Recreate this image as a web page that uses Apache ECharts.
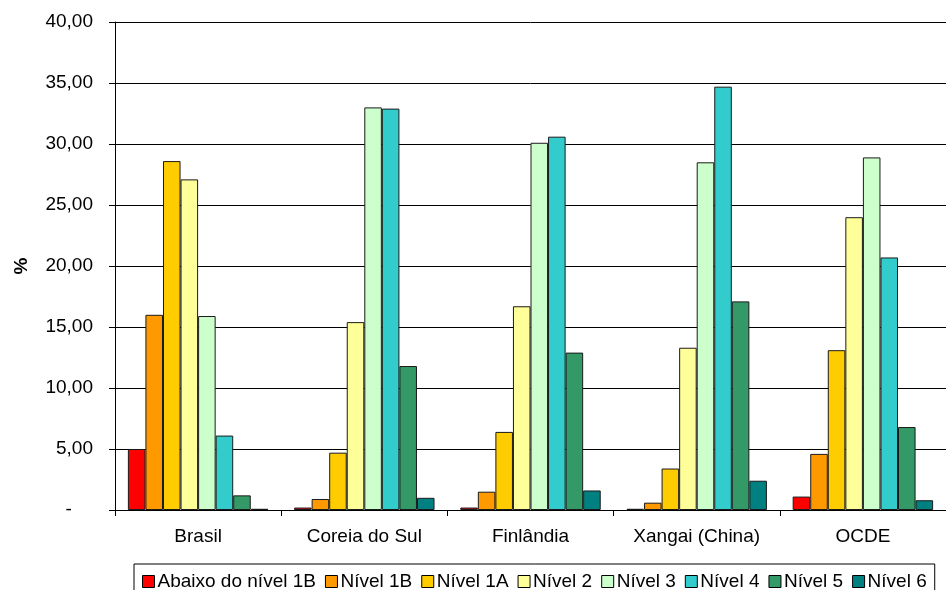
<!DOCTYPE html>
<html>
<head>
<meta charset="utf-8">
<script src="https://cdn.jsdelivr.net/npm/echarts@6/dist/echarts.min.js"></script>
<style>
html,body{margin:0;padding:0;background:#fff;}
#chart{width:946px;height:590px;}
</style>
</head>
<body>
<div id="chart"></div>
<script>
const categories = ['Brasil', 'Coreia do Sul', 'Finlândia', 'Xangai (China)', 'OCDE'];
const seriesNames = ['Abaixo do nível 1B', 'Nível 1B', 'Nível 1A', 'Nível 2', 'Nível 3', 'Nível 4', 'Nível 5', 'Nível 6'];
const abaixo1B = [5.0, 0.2, 0.2, 0.1, 1.1];
const nivel1B  = [16.0, 0.9, 1.5, 0.6, 4.6];
const nivel1A  = [28.6, 4.7, 6.4, 3.4, 13.1];
const nivel2   = [27.1, 15.4, 16.7, 13.3, 24.0];
const nivel3   = [15.9, 33.0, 30.1, 28.5, 28.9];
const nivel4   = [6.1, 32.9, 30.6, 34.7, 20.7];
const nivel5   = [1.2, 11.8, 12.9, 17.1, 6.8];
const nivel6   = [0.1, 1.0, 1.6, 2.4, 0.8];
const colors = ['#FF0000', '#FF9900', '#FFCC00', '#FFFF99', '#CCFFCC', '#33CCCC', '#339966', '#008080'];

const allValues = [abaixo1B, nivel1B, nivel1A, nivel2, nivel3, nivel4, nivel5, nivel6];
const FONT = 'Liberation Sans, Arial, sans-serif';
const FS = 19;

const chart = echarts.init(document.getElementById('chart'), null, {renderer: 'canvas'});
chart.setOption({
  animation: false,
  backgroundColor: '#ffffff',
  textStyle: {fontFamily: FONT},
  grid: {left: 115, right: -9, top: 22, bottom: 80, containLabel: false},
  legend: {
    data: seriesNames.map((n, i) => ({name: n, itemStyle: {color: colors[i], borderColor: '#000', borderWidth: 1}})),
    left: 134,
    top: 564,
    icon: 'rect',
    itemWidth: 12,
    itemHeight: 12,
    itemGap: 9,
    borderColor: '#000',
    borderWidth: 1,
    padding: [8, 8, 8, 8],
    textStyle: {fontFamily: FONT, fontSize: FS, color: '#000', padding: [0, 0, 0, -2]}
  },
  xAxis: {
    type: 'category',
    data: categories,
    axisLine: {lineStyle: {color: '#000', width: 1}},
    axisTick: {show: true, length: 6, lineStyle: {color: '#000'}},
    axisLabel: {fontFamily: FONT, fontSize: FS, color: '#000', margin: 17},
    splitLine: {show: false}
  },
  yAxis: {
    type: 'value',
    min: 0,
    max: 40,
    interval: 5,
    name: '%',
    nameLocation: 'middle',
    nameGap: 84,
    nameRotate: 90,
    nameTextStyle: {fontFamily: FONT, fontSize: FS, fontWeight: 'bold', color: '#000'},
    axisLine: {show: true, lineStyle: {color: '#000', width: 1}},
    axisTick: {show: true, length: 6, lineStyle: {color: '#000'}},
    axisLabel: {
      fontFamily: FONT, fontSize: FS, color: '#000', margin: 22,
      formatter: v => v === 0 ? '-    ' : v.toFixed(2).replace('.', ',')
    },
    splitLine: {show: true, lineStyle: {color: '#000', width: 1}}
  },
  series: seriesNames.map((n, i) => ({
    name: n,
    type: 'bar',
    data: allValues[i],
    barGap: '0%',
    barCategoryGap: '15.5%',
    itemStyle: {color: colors[i], borderColor: '#1a1a1a', borderWidth: 1}
  }))
});
</script>
</body>
</html>
